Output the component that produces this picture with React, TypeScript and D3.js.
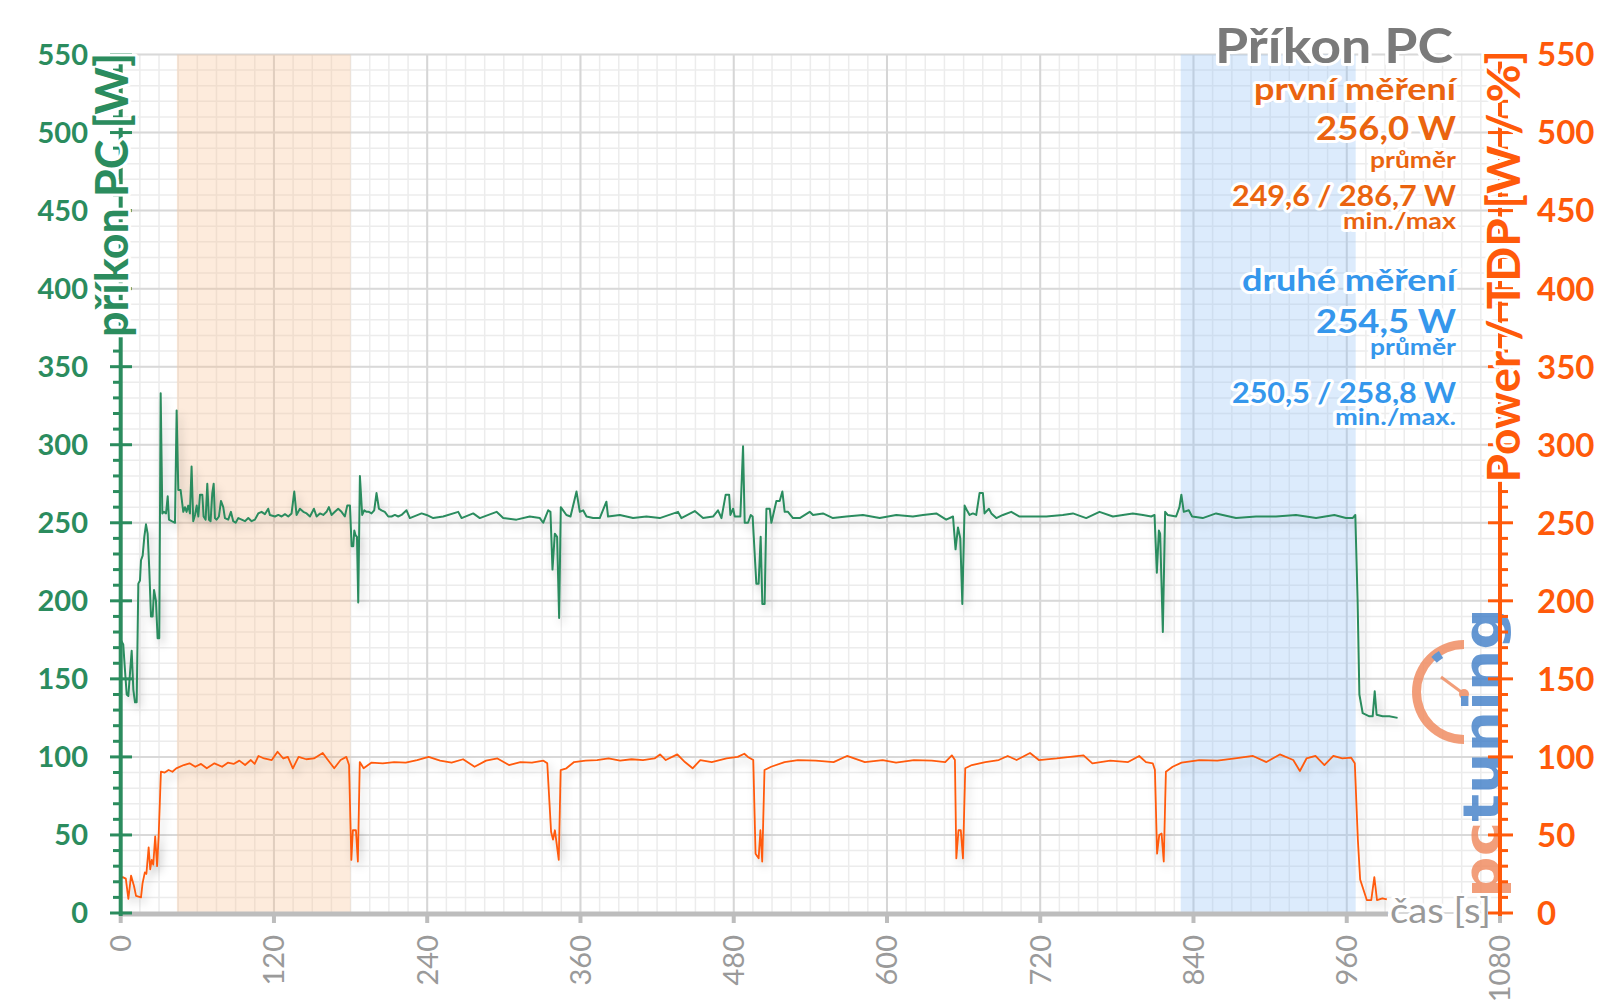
import React from 'react';
import * as d3 from 'd3';

const timeTicks = [0, 120, 240, 360, 480, 600, 720, 840, 960, 1080];
const powerTicks = [0, 50, 100, 150, 200, 250, 300, 350, 400, 450, 500, 550];

const greenTime = [0, 2, 3.4, 4.7, 6, 7.3, 8.6, 9.9, 11.2, 12.5, 13.8, 15.1, 15.9, 17.2, 18.5, 19.8, 21.1, 22.4, 23.7, 25, 26.1, 27.6, 28.9, 30.2, 31.3, 32.6, 33.9, 35.5, 36.8, 37.8, 39.9, 42.5, 43.8, 45.1, 46.9, 49, 50.3, 51.6, 52.9, 54.2, 55.5, 56.8, 58.2, 59.5, 60.8, 62.1, 63.9, 64.9, 66.5, 67.8, 69.1, 70.4, 71.7, 72.8, 73.8, 75.1, 76.9, 78.5, 80.3, 81.6, 84.2, 86.3, 88.1, 90, 92.1, 94.7, 97.3, 99.9, 102.5, 105.1, 107.7, 110.3, 112.9, 115.5, 116.8, 120.8, 123.4, 126, 128.6, 131.2, 133.8, 135.9, 137.7, 140.3, 143, 145.6, 148.2, 151.3, 153.4, 156, 158.6, 161.2, 163, 165.1, 167.7, 170.3, 172.9, 175.5, 177.4, 179.5, 180.8, 182.1, 182.9, 183.9, 185, 186, 187.3, 189.1, 190.7, 192.5, 194.3, 196.4, 198.5, 200.3, 202.2, 204.2, 206.8, 209.5, 212.1, 214.7, 217.3, 219.9, 223.8, 226.4, 235.6, 239.5, 244.7, 252.5, 264.3, 266.9, 276, 281.2, 294.3, 299.5, 309.9, 320.3, 328.2, 330.8, 334.7, 336.5, 338.1, 339.9, 341.7, 343.3, 344.6, 346.4, 349, 352.2, 356.9, 359.5, 362.1, 364.7, 369.9, 375.1, 380.3, 381.6, 390.8, 401.2, 411.6, 422.1, 436.4, 439, 449.5, 456, 463.8, 467.7, 470.4, 473.7, 476.4, 477.4, 479.5, 480.8, 485.2, 487.3, 488.6, 491.2, 493.3, 494.8, 497.7, 499.5, 501.1, 502.4, 504.2, 505.6, 508.2, 509.5, 513.4, 516, 518.1, 519.9, 522.5, 526.4, 531.7, 539.5, 542.1, 549.9, 557.7, 568.2, 581.2, 594.3, 607.3, 620.3, 628.2, 638.6, 646.4, 651.7, 653.7, 655.6, 657.4, 659, 660.8, 662.6, 664.7, 667.3, 669.9, 672.5, 675.1, 676.4, 679.8, 681.7, 685.6, 690.8, 697.3, 703.8, 714.3, 724.7, 737.7, 745.6, 756, 766.4, 776.9, 784.7, 792.5, 800.4, 806.9, 809.5, 811.3, 812.9, 813.9, 816, 817.8, 819.8, 826.4, 829, 830.5, 832.4, 836.3, 838.9, 847.2, 857.7, 873.3, 889, 904.6, 920.3, 936, 950.3, 959.4, 964.6, 966.7, 968.5, 969.9, 972.5, 977.7, 980.3, 981.9, 983.4, 988.1, 993.3, 999.8];
const greenWatts = [175, 172, 155, 140, 139, 154, 168, 143, 135, 135, 211, 213, 226, 229, 241, 249, 243, 220, 190, 190, 207, 200, 176, 176, 333, 256, 257, 256, 267, 252, 251, 250, 322, 271, 271, 257, 260, 257, 261, 256, 286, 251, 255, 261, 254, 268, 268, 254, 252, 275, 252, 251, 269, 275, 253, 252, 254, 264, 260, 253, 252, 257, 251, 250, 253, 252, 251, 253, 251, 252, 256, 257, 255.5, 259, 255, 254, 255, 254, 255.5, 254, 256, 270, 255, 259, 257, 256, 254, 259, 254, 256, 255, 257, 260, 255, 257, 259, 257, 254, 261, 261, 235, 235, 245, 242, 241, 199, 280, 255, 258, 257, 257, 256, 258, 269, 259, 258, 257, 254, 254, 255, 254, 255, 258, 253, 256, 255, 253, 254, 257, 253, 256, 253, 257, 253, 252, 254, 253, 250, 258, 257, 220, 243, 241, 189, 260, 258, 255, 254, 270, 257, 258, 254, 253, 253, 263.5, 254, 255, 253, 254, 253, 257, 253, 257.5, 253, 254, 258, 253, 268, 268, 255, 259, 254, 254, 299, 250, 250, 255, 254, 211, 211, 241, 198, 198, 259, 259, 250, 264, 264, 270, 257, 257, 253, 253, 257, 255, 256, 253, 254, 255, 253, 255, 254, 255, 256, 252, 254, 233, 247, 240, 198, 261, 258, 255, 256, 255, 269, 269, 256, 259, 256, 253, 255, 257, 254, 254, 254, 255, 256, 253, 257, 254, 255, 256, 255, 254, 255, 218, 245, 243, 180, 257, 255, 254, 260, 268, 257, 258, 254, 253, 256, 253, 254, 254, 255, 253, 255, 253, 253, 255, 200, 140, 128, 126, 126, 142, 127, 126, 126, 125];

const orangeTime = [0, 1.5, 4, 6, 8.1, 10.5, 12, 15.9, 17.1, 18.9, 20.1, 21.9, 23.1, 24.3, 25.5, 27, 28.5, 29.7, 31.5, 34.5, 37.5, 40.5, 43.5, 49.4, 53.9, 58.4, 62.9, 67.4, 73.4, 79.4, 83.9, 88.4, 92.9, 97.4, 101.9, 104.9, 107.9, 112.3, 118.3, 122.8, 127.3, 130.9, 134.8, 139.3, 145.3, 151.3, 158.2, 161.8, 167.2, 172.2, 176.7, 178.8, 180.6, 181.8, 184.2, 185.7, 187.2, 190.2, 196.2, 205.2, 214.2, 223.2, 232.1, 241.1, 250.1, 259.1, 268.1, 277.1, 286.1, 295, 304, 313, 322, 331, 334, 337, 338.5, 340, 343, 344.5, 349, 355, 364, 373, 382, 391, 400, 409, 418, 422.3, 426.8, 435.8, 441.8, 447.8, 453.8, 462.8, 474.4, 483.1, 488.3, 491.1, 495.3, 497.1, 499.5, 500.9, 502.3, 504.1, 509.3, 519.8, 530.3, 544.2, 558.2, 568.7, 582.7, 596.6, 607.1, 621.1, 635.1, 645.6, 650.8, 653.2, 654.3, 656, 657.8, 659.5, 661.3, 666.5, 677, 687.5, 694.5, 701.5, 712, 718.9, 732.9, 753.9, 760.8, 774.8, 788.8, 797.5, 802.8, 808.1, 809.8, 811.5, 813.2, 815, 816.7, 818.4, 823.7, 830.7, 844.7, 858.7, 872.6, 886.6, 897.1, 907.6, 918.1, 923.3, 928.5, 935.5, 942.5, 949.5, 956.5, 963.5, 966.3, 968.7, 970.5, 975.7, 979.2, 981.6, 983.7, 987.9, 991.4];
const orangeValues = [22, 23, 22, 9, 24, 17, 11, 10, 19, 26, 25, 42, 28, 34, 31, 49, 30, 49, 90.5, 90, 91.6, 90.5, 92.7, 94.8, 95.9, 93.7, 95.5, 92.7, 95.9, 93.7, 96.3, 95.5, 97.6, 94.8, 98, 95.5, 100.6, 99, 98, 103.3, 99, 100, 92.7, 100, 98.5, 99, 102.5, 98.5, 92.7, 98, 100, 94.8, 34, 53, 53, 33, 96.7, 92.7, 96.3, 95.9, 96.7, 96.3, 98, 100, 97.6, 96.3, 98.5, 93.7, 97.6, 99, 94.8, 96.7, 96.3, 97.6, 95.9, 52, 47, 53, 34, 91.6, 92.7, 96.7, 97.6, 98, 99, 97.6, 98.5, 98, 99, 101.6, 98, 101.6, 96.7, 92.7, 98, 96.7, 99, 100, 102, 100, 98, 38, 35, 53, 33, 91.6, 93.7, 96.7, 98, 97.6, 96.7, 100.6, 96.7, 98, 96.3, 98, 97.6, 96.7, 101, 98, 35, 53, 53, 35, 92.7, 94.8, 96.7, 98, 100.6, 98, 102.5, 98, 99, 101, 95.9, 97.6, 96.7, 100.6, 96.7, 95.9, 91.6, 38, 50, 51, 33, 90.5, 93.7, 96.3, 98, 97.6, 99, 100.6, 96.7, 101.6, 98, 91, 99, 100.6, 94.8, 100.6, 99, 99.5, 95.9, 47, 21.5, 8.3, 8.3, 23, 8.3, 9.4, 8.7];

const firstBand = [44, 180];
const secondBand = [830, 967];

const chartTitle = 'Příkon PC';
const leftAxisTitle = 'příkon PC [W]';
const rightAxisTitle = 'Power / TDP [W / %]';
const timeAxisTitle = 'čas [s]';
const firstStats = ['první měření', '256,0 W', 'průměr', '249,6 / 286,7 W', 'min./max'];
const secondStats = ['druhé měření', '254,5 W', 'průměr', '250,5 / 258,8 W', 'min./max.'];

const GREEN = '#2B8C5E';
const ORANGE = '#FF5A0A';
const ORANGE_TXT = '#EA640F';
const BLUE = '#3597EC';
const FONT = 'Lato, "Open Sans", sans-serif';

export default function App() {
  const x = d3.scaleLinear().domain([0, 1080]).range([120.7, 1500]);
  const y = d3.scaleLinear().domain([0, 550]).range([913, 54.5]);
  const minorX = d3.range(0, 1081, 15);
  const minorY = d3.range(0, 551, 10);

  const lineGen = d3.line<[number, number]>().x(d => x(d[0])).y(d => y(d[1]));
  const greenPath = lineGen(greenTime.map((t, i) => [t, greenWatts[i]]));
  const orangePath = lineGen(orangeTime.map((t, i) => [t, orangeValues[i]]));

  const statSizes = [30, 32, 22, 28, 22];
  const firstWidths = [202, 140, 86, 224, 113];
  const secondWidths = [214, 140, 86, 224, 121];
  const firstY = [100, 140, 168, 206, 229];
  const secondY = [291, 333, 355, 403, 425];

  const halo = { stroke: '#fff', strokeWidth: 6, paintOrder: 'stroke' as const, strokeLinejoin: 'round' as const };

  const arc = d3.arc();
  const gaugeArc = arc({ innerRadius: 43, outerRadius: 52, startAngle: Math.PI, endAngle: 2 * Math.PI } as any);
  const gaugeMark = arc({ innerRadius: 40, outerRadius: 48, startAngle: 2 * Math.PI - 0.75, endAngle: 2 * Math.PI - 0.55 } as any);

  return (
    <svg width={1600} height={1008} style={{ position: 'absolute', left: 0, top: 0, background: '#fff' }} fontFamily={FONT}>
      <defs>
        <filter id="sh" filterUnits="userSpaceOnUse" x="0" y="0" width="1600" height="1008">
          <feDropShadow dx="3" dy="5" stdDeviation="4" floodColor="#000" floodOpacity="0.22" />
        </filter>
      </defs>
      {/* grid */}
      {minorX.map(t => (
        <line key={'mx' + t} x1={x(t)} x2={x(t)} y1={y(550)} y2={y(0)} stroke="#ececec" strokeWidth={1.5} />
      ))}
      {minorY.map(v => (
        <line key={'my' + v} x1={x(0)} x2={x(1080)} y1={y(v)} y2={y(v)} stroke="#ececec" strokeWidth={1.5} />
      ))}
      {timeTicks.map(t => (
        <line key={'gx' + t} x1={x(t)} x2={x(t)} y1={y(550)} y2={y(0)} stroke="#d6d6d6" strokeWidth={2} />
      ))}
      {powerTicks.map(v => (
        <line key={'gy' + v} x1={x(0)} x2={x(1080)} y1={y(v)} y2={y(v)} stroke="#d9d9d9" strokeWidth={2} />
      ))}
      {/* bands */}
      <rect x={x(firstBand[0])} width={x(firstBand[1]) - x(firstBand[0])} y={y(550)} height={y(0) - y(550)} fill="rgb(250,190,140)" opacity={0.3} />
      <rect x={x(secondBand[0])} width={x(secondBand[1]) - x(secondBand[0])} y={y(550)} height={y(0) - y(550)} fill="rgb(150,195,245)" opacity={0.33} />

      {/* logo */}
      <g opacity={0.8}>
        <path d={gaugeArc || ''} transform="translate(1464,692)" fill="#F0875A" />
        <path d={gaugeMark || ''} transform="translate(1464,692)" fill="#3F7EC8" />
        <line x1={1464} y1={694} x2={1441} y2={677} stroke="#F0875A" strokeWidth={3} />
        <circle cx={1464} cy={694} r={5} fill="#F0875A" />
        <text transform="translate(1500,898) rotate(-90)" fontSize={52} fontWeight="bold" textLength={290} lengthAdjust="spacingAndGlyphs" fontFamily='"DejaVu Sans", sans-serif'>
          <tspan fill="#F0875A">pc</tspan>
          <tspan fill="#3F7EC8">tuning</tspan>
        </text>
      </g>

      {/* series */}
      <path d={orangePath || ''} fill="none" stroke={ORANGE} strokeWidth={1.8} filter="url(#sh)" strokeLinejoin="round" />
      <path d={greenPath || ''} fill="none" stroke={GREEN} strokeWidth={2} filter="url(#sh)" strokeLinejoin="round" />

      {/* bottom axis */}
      <line x1={x(0)} x2={1388} y1={914} y2={914} stroke="#bdbdbd" strokeWidth={5} />
      {timeTicks.map(t => (
        <line key={'tx' + t} x1={x(t)} x2={x(t)} y1={912} y2={923} stroke="#bdbdbd" strokeWidth={4} />
      ))}
      {timeTicks.map(t => (
        <text key={'lx' + t} transform={`translate(${x(t)},935) rotate(-90)`} textAnchor="end" dy="0.36em" fontSize={29} fill="#9a9a9a">
          {t}
        </text>
      ))}
      <text x={1390} y={923} fontSize={34} textLength={101} lengthAdjust="spacingAndGlyphs" fill="#999" {...halo}>{timeAxisTitle}</text>

      {/* left axis */}
      <line x1={x(0)} x2={x(0)} y1={y(550) - 1} y2={y(0) + 3} stroke={GREEN} strokeWidth={4} />
      {minorY.map(v => (
        <line key={'lt' + v} x1={v % 50 === 0 ? 110 : 113} x2={v % 50 === 0 ? 132 : 121} y1={y(v)} y2={y(v)} stroke={GREEN} strokeWidth={3} />
      ))}
      {powerTicks.map(v => (
        <text key={'ll' + v} x={88} y={y(v)} dy="0.36em" textAnchor="end" fontSize={29} fontWeight="bold" fill={GREEN}>{v}</text>
      ))}
      <text transform="translate(128,53) rotate(-90)" textAnchor="end" fontSize={45} fontWeight="bold" fill={GREEN} {...halo}>{leftAxisTitle}</text>

      {/* right axis */}
      <line x1={x(1080)} x2={x(1080)} y1={y(550) - 1} y2={y(0) + 3} stroke={ORANGE} strokeWidth={4} />
      {minorY.map(v => (
        <line key={'rt' + v} x1={v % 50 === 0 ? 1488 : 1500} x2={v % 50 === 0 ? 1513 : 1508} y1={y(v)} y2={y(v)} stroke={ORANGE} strokeWidth={3} />
      ))}
      {powerTicks.map(v => (
        <text key={'rl' + v} x={1537} y={y(v)} dy="0.36em" textAnchor="start" fontSize={33} fontWeight="bold" fill={ORANGE}>{v}</text>
      ))}
      <text transform="translate(1520,50) rotate(-90)" textAnchor="end" fontSize={46} fontWeight="bold" fill={ORANGE} {...halo}>{rightAxisTitle}</text>

      {/* title and stats */}
      <text x={1453} y={63} textAnchor="end" fontSize={48} fontWeight="bold" textLength={238} lengthAdjust="spacingAndGlyphs" fill="#7a7a7a" {...halo}>{chartTitle}</text>
      {firstStats.map((s, i) => (
        <text key={'fs' + i} x={1456} y={firstY[i]} textAnchor="end" fontSize={statSizes[i]} fontWeight="bold" textLength={firstWidths[i]} lengthAdjust="spacingAndGlyphs" fill={ORANGE_TXT} {...halo}>{s}</text>
      ))}
      {secondStats.map((s, i) => (
        <text key={'ss' + i} x={1456} y={secondY[i]} textAnchor="end" fontSize={statSizes[i]} fontWeight="bold" textLength={secondWidths[i]} lengthAdjust="spacingAndGlyphs" fill={BLUE} {...halo}>{s}</text>
      ))}
    </svg>
  );
}
